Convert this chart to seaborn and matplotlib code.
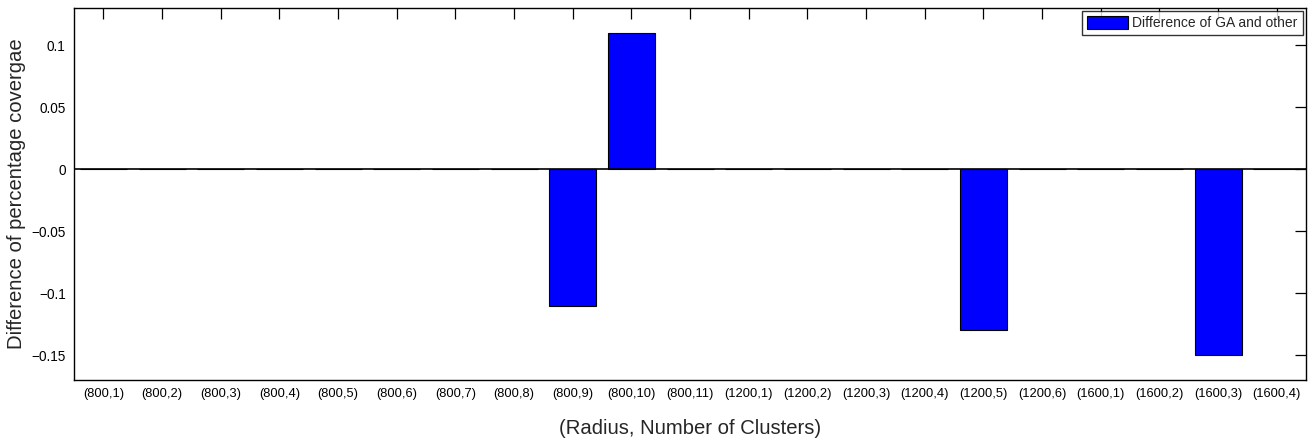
import numpy as np
import pandas as pd
import matplotlib
matplotlib.use("Agg")
import matplotlib.pyplot as plt
import seaborn as sns

# Data
categories = ['(800,1)', '(800,2)', '(800,3)', '(800,4)', '(800,5)', '(800,6)',
              '(800,7)', '(800,8)', '(800,9)', '(800,10)', '(800,11)',
              '(1200,1)', '(1200,2)', '(1200,3)', '(1200,4)', '(1200,5)', '(1200,6)',
              '(1600,1)', '(1600,2)', '(1600,3)', '(1600,4)']
difference = [0, 0, 0, 0, 0, 0, 0, 0, -0.11, 0.11, 0,
              0, 0, 0, 0, -0.13, 0,
              0, 0, -0.15, 0]
ytick_values = [-0.15, -0.1, -0.05, 0, 0.05, 0.1]
ytick_labels = ['\u22120.15', '\u22120.1', '\u22120.05', '0', '0.05', '0.1']

df = pd.DataFrame({'config': categories, 'diff': difference})

sns.set_style('white')
plt.rcParams['font.family'] = ['Liberation Sans', 'DejaVu Sans']

fig = plt.figure(figsize=(13.15, 4.42), dpi=100)
ax = fig.add_axes([0.0563, 0.140, 0.9369, 0.842])

sns.barplot(
    data=df,
    x='config',
    y='diff',
    order=categories,
    color='blue',
    saturation=1,
    edgecolor='black',
    linewidth=0.8,
    width=0.8,
    errorbar=None,
    label='Difference of GA and other',
    ax=ax
)

# baseline at zero
ax.axhline(0, color='black', linewidth=1.2, zorder=3)

ax.set_xlim(-0.5, len(categories) - 0.5)
ax.set_ylim(-0.17, 0.13)
ax.set_yticks(ytick_values)
ax.set_yticklabels(ytick_labels)

ax.tick_params(axis='both', which='major', direction='in', length=8, width=0.9,
               top=True, right=True, colors='black', pad=6)
ax.tick_params(axis='x', labelsize=9.3)
ax.tick_params(axis='y', labelsize=9.8)

for sp in ax.spines.values():
    sp.set_visible(True)
    sp.set_color('black')
    sp.set_linewidth(1.0)

ax.set_xlabel('(Radius, Number of Clusters)', fontsize=14.6, labelpad=13)
ax.set_ylabel('Difference of percentage covergae', fontsize=14.6, labelpad=4)

leg = ax.legend(loc='upper right', fontsize=10, frameon=True, fancybox=False,
                borderpad=0.35, handlelength=3.0, handleheight=1.0,
                borderaxespad=0.25, handletextpad=0.3)
leg.get_frame().set_edgecolor('black')
leg.get_frame().set_linewidth(1.0)

fig.savefig('out.png', dpi=100)
